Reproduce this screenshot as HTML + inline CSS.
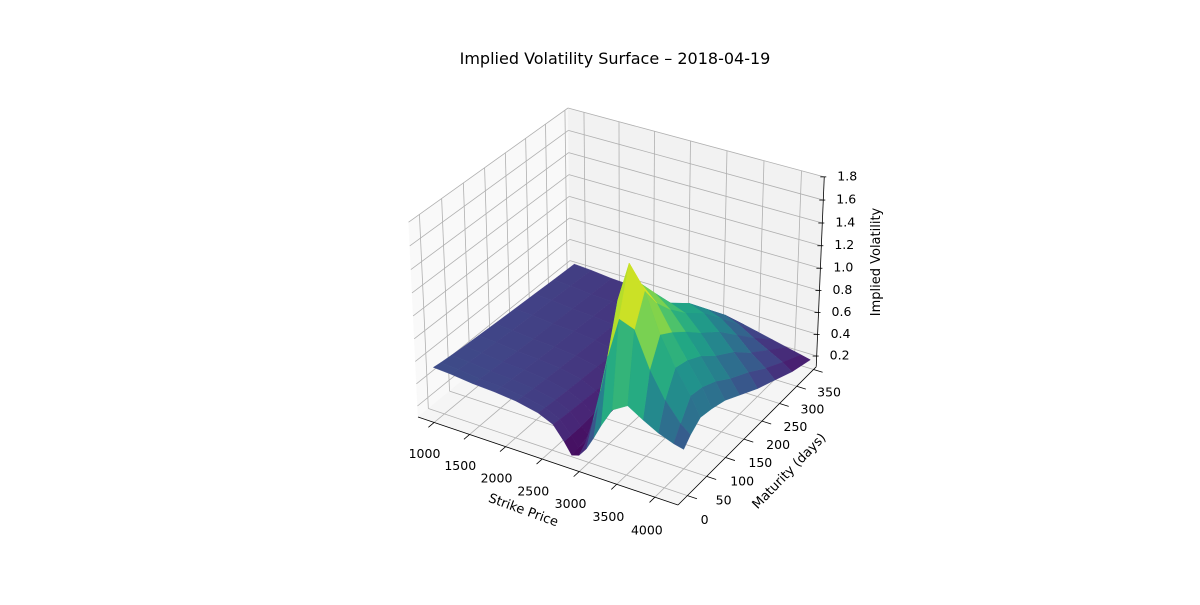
<!DOCTYPE html>
<html><head><meta charset="utf-8"><style>
html,body{margin:0;padding:0;background:#fff;}
svg text{font-family:"DejaVu Sans","Liberation Sans",sans-serif;fill:#000;}
</style></head><body>
<svg id="chart" width="1200" height="600" viewBox="0 0 1200 600" xmlns="http://www.w3.org/2000/svg">
<rect x="0" y="0" width="1200" height="600" fill="#fff"/>
<text x="615" y="64" font-size="16" text-anchor="middle">Implied Volatility Surface – 2018-04-19</text>
<g id="panes"></g>
<g id="grid"></g>
<g id="surface"></g>
<g id="axes"></g>
<text x="0" y="0" font-size="13" text-anchor="middle" transform="translate(522,514) rotate(20)">Strike Price</text>
<text x="0" y="0" font-size="13" text-anchor="middle" transform="translate(792,474) rotate(-46)">Maturity (days)</text>
<text x="0" y="0" font-size="13" text-anchor="middle" transform="translate(880,262) rotate(-90)">Implied Volatility</text>
</svg>
<script>
const strikes = [850,1100,1400,1700,2000,2300,2500,2650,2750,2850,2950,3050,3150,3300,3500,3700,3900,4100,4230];
const maturities = [3,20,45,75,110,150,200,250,300,355];
const ivRows = [
 [.48,.47,.45,.44,.42,.38,.32,.20,.10,.12,.20,.32,.45,.62,.70,.62,.55,.50,.48],
 [.47,.46,.44,.43,.41,.37,.31,.20,.11,.18,.40,.68,1.00,1.35,1.30,1.00,.78,.62,.55],
 [.46,.45,.43,.42,.40,.36,.30,.20,.14,.25,.58,1.00,1.40,1.74,1.55,1.22,.98,.78,.62],
 [.45,.44,.42,.41,.39,.35,.29,.21,.16,.28,.62,1.08,1.38,1.48,1.36,1.15,.95,.76,.60],
 [.44,.43,.41,.40,.38,.34,.28,.21,.17,.28,.55,.95,1.20,1.30,1.20,1.05,.88,.70,.56],
 [.43,.42,.40,.39,.37,.33,.27,.21,.18,.26,.45,.80,1.00,1.10,1.05,.92,.76,.60,.48],
 [.42,.41,.39,.38,.36,.32,.27,.21,.18,.24,.38,.65,.85,.95,.90,.78,.64,.50,.38],
 [.41,.40,.38,.37,.35,.31,.26,.21,.18,.22,.30,.50,.65,.75,.70,.60,.48,.38,.30],
 [.40,.39,.37,.36,.34,.30,.26,.21,.18,.20,.25,.35,.48,.55,.50,.42,.35,.28,.22],
 [.39,.38,.36,.35,.33,.29,.25,.21,.18,.19,.21,.24,.28,.30,.27,.24,.21,.18,.16]
];
const strikeTicks = [1000,1500,2000,2500,3000,3500,4000];
const maturityTicks = [0,50,100,150,200,250,300,350];
const volTicks = [0.2,0.4,0.6,0.8,1.0,1.2,1.4,1.6,1.8];
const volTickLabels = ["0.2","0.4","0.6","0.8","1.0","1.2","1.4","1.6","1.8"];

const NS="http://www.w3.org/2000/svg";
const K0=770,K1=4300,T0=-24,T1=358,Z0=0.10,Z1=1.80;
const AX=1.1428,AY=1.1428,AZ=0.857;
const W=[0.433,-0.75,0.5],RT=[0.866,0.5,0],UP=[-0.25,0.433,0.866];
const EYE=[AX/2+10*W[0],AY/2+10*W[1],AZ/2+10*W[2]];
function cam(K,T,z){
  const p=[(K-K0)/(K1-K0)*AX,(T-T0)/(T1-T0)*AY,(z-Z0)/(Z1-Z0)*AZ];
  const d=[p[0]-EYE[0],p[1]-EYE[1],p[2]-EYE[2]];
  const xc=d[0]*RT[0]+d[1]*RT[1]+d[2]*RT[2];
  const yc=d[0]*UP[0]+d[1]*UP[1]+d[2]*UP[2];
  const zc=d[0]*W[0]+d[1]*W[1]+d[2]*W[2];
  return [xc/(-zc),yc/(-zc),zc];
}
const refs=[[K0,T0,Z0,418,417],[K1,T0,Z0,678,505],[K0,T1,Z1,568,108]];
function solve3(A,b){const m=A.map((r,i)=>[...r,b[i]]);for(let i=0;i<3;i++){let p=i;for(let j=i+1;j<3;j++)if(Math.abs(m[j][i])>Math.abs(m[p][i]))p=j;[m[i],m[p]]=[m[p],m[i]];for(let j=0;j<3;j++){if(j===i)continue;const f=m[j][i]/m[i][i];for(let k=i;k<4;k++)m[j][k]-=f*m[i][k];}}return m.map((r,i)=>r[3]/r[i]);}
const Am=refs.map(r=>{const c=cam(r[0],r[1],r[2]);return [c[0],c[1],1];});
const cx=solve3(Am,refs.map(r=>r[3])),cy=solve3(Am,refs.map(r=>r[4]));
function P(K,T,z){const c=cam(K,T,z);return [cx[0]*c[0]+cx[1]*c[1]+cx[2],cy[0]*c[0]+cy[1]*c[1]+cy[2],c[2]];}
function pts(a){return a.map(p=>p[0].toFixed(1)+","+p[1].toFixed(1)).join(" ");}
function poly(g,a,fill,name){const e=document.createElementNS(NS,"polygon");e.setAttribute("points",pts(a));e.setAttribute("fill",fill);e.setAttribute("stroke",fill);e.setAttribute("stroke-width","0.4");


g.appendChild(e);}
function line(g,a,b,col,w,name){const e=document.createElementNS(NS,"line");e.setAttribute("x1",a[0]);e.setAttribute("y1",a[1]);e.setAttribute("x2",b[0]);e.setAttribute("y2",b[1]);e.setAttribute("stroke",col);e.setAttribute("stroke-width",w);


g.appendChild(e);}
function text(g,x,y,s,name,anchor){const e=document.createElementNS(NS,"text");e.setAttribute("x",x);e.setAttribute("y",y);e.setAttribute("font-size","12.5");e.setAttribute("text-anchor",anchor||"middle");e.setAttribute("dominant-baseline","middle");e.textContent=s;


g.appendChild(e);}
const panes=document.getElementById("panes"),grid=document.getElementById("grid"),surf=document.getElementById("surface"),axes=document.getElementById("axes");
poly(panes,[P(K0,T0,Z0),P(K0,T1,Z0),P(K0,T1,Z1),P(K0,T0,Z1)],"#f9f9f9","left-pane");
poly(panes,[P(K0,T1,Z0),P(K1,T1,Z0),P(K1,T1,Z1),P(K0,T1,Z1)],"#f2f2f2","back-pane");
poly(panes,[P(K0,T0,Z0),P(K1,T0,Z0),P(K1,T1,Z0),P(K0,T1,Z0)],"#f5f5f5","floor-pane");
const GC="#b0b0b0";
strikeTicks.forEach(k=>{line(grid,P(k,T0,Z0),P(k,T1,Z0),GC,0.8,"floor-grid-strike");line(grid,P(k,T1,Z0),P(k,T1,Z1),GC,0.8,"back-grid-strike");});
maturityTicks.forEach(t=>{line(grid,P(K1,t,Z0),P(K0,t,Z0),GC,0.8,"floor-grid-maturity");line(grid,P(K0,t,Z0),P(K0,t,Z1),GC,0.8,"left-grid-maturity");});
volTicks.forEach(z=>{line(grid,P(K0,T0,z),P(K0,T1,z),GC,0.8,"left-grid-vol");line(grid,P(K0,T1,z),P(K1,T1,z),GC,0.8,"back-grid-vol");});
const VS=[[68,1,84],[72,36,117],[65,68,135],[53,95,141],[42,120,142],[33,145,140],[34,168,132],[68,191,112],[122,209,81],[189,223,38],[253,231,37]];
function viridis(t){t=Math.max(0,Math.min(1,t));const f=t*(VS.length-1),i=Math.min(VS.length-2,Math.floor(f)),r=f-i;const c=VS[i].map((v,j)=>Math.round(v+(VS[i+1][j]-v)*r));return "rgb("+c.join(",")+")";}
let zmn=1e9,zmx=-1e9;ivRows.forEach(r=>r.forEach(v=>{zmn=Math.min(zmn,v);zmx=Math.max(zmx,v);}));
const quads=[];
for(let j=0;j<maturities.length-1;j++)for(let i=0;i<strikes.length-1;i++){
  const c=[[i,j],[i+1,j],[i+1,j+1],[i,j+1]];
  const pp=c.map(([a,b])=>P(strikes[a],maturities[b],ivRows[b][a]));
  const zs=c.map(([a,b])=>ivRows[b][a]);
  const zcol=(zs.reduce((s,v)=>s+v,0)/4+Math.max(...zs))/2;
  const depth=pp.reduce((s,p)=>s+p[2],0)/4;
  quads.push({pp,zcol,depth});
}
quads.sort((a,b)=>a.depth-b.depth);
quads.forEach(q=>poly(surf,q.pp,viridis((q.zcol-zmn)/(zmx-zmn)),"surface-patch"));
line(axes,P(K0,T0,Z0),P(K1,T0,Z0),"#000",0.8,"x-axis-line");
line(axes,P(K1,T0,Z0),P(K1,T1,Z0),"#000",0.8,"y-axis-line");
line(axes,P(K1,T1,Z0),P(K1,T1,Z1),"#000",0.8,"z-axis-line");
const dT=(T1-T0),dK=(K1-K0);
strikeTicks.forEach(k=>{const a=P(k,T0,Z0),b=P(k,T0-0.035*dT,Z0);line(axes,a,b,"#000",0.8,"x-tick");const l=P(k,T0-0.13*dT,Z0);text(axes,l[0]+12,l[1]+14,String(k),"x-tick-label");});
maturityTicks.forEach(t=>{const a=P(K1,t,Z0),b=P(K1+0.035*dK,t,Z0);line(axes,a,b,"#000",0.8,"y-tick");const l=P(K1+0.11*dK,t,Z0);text(axes,l[0]-13,l[1]+15,String(t),"y-tick-label");});
volTicks.forEach((z,i)=>{const a=P(K1,T1,z);line(axes,[a[0]-4,a[1]],[a[0]+2,a[1]],"#000",0.8,"z-tick");text(axes,a[0]+13,a[1],volTickLabels[i],"z-tick-label","start");});
</script>
</body></html>
